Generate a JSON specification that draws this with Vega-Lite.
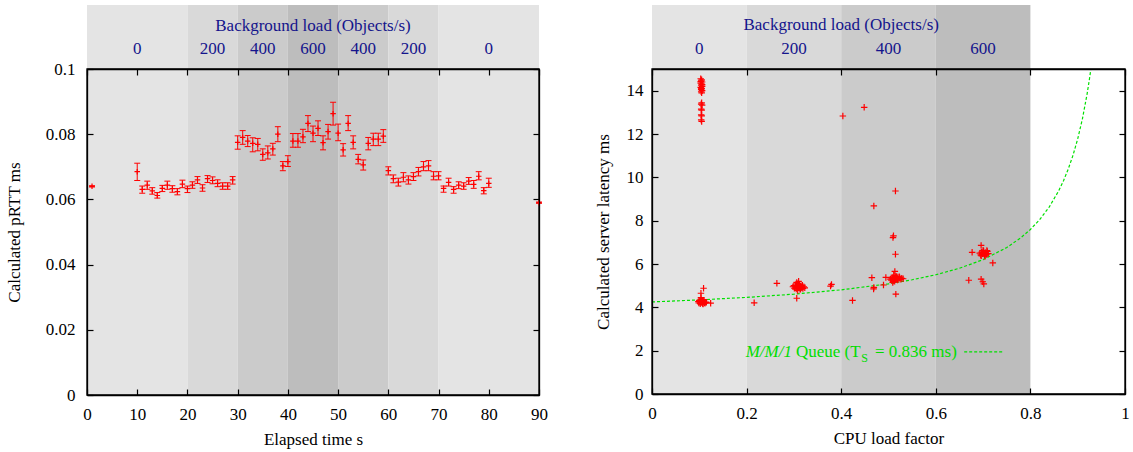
{
  "$schema": "https://vega.github.io/schema/vega-lite/v6.json",
  "background": "white",
  "padding": {"left": 5, "top": 5, "right": 2, "bottom": 2},
  "bounds": "flush",
  "spacing": 113,
  "resolve": {"scale": {"x": "independent", "y": "independent", "color": "independent"}},
  "config": {
    "font": "Liberation Serif",
    "view": {"stroke": null},
    "axis": {
      "labelFont": "Liberation Serif", "labelFontSize": 17, "labelColor": "black",
      "titleFont": "Liberation Serif", "titleFontSize": 17, "titleFontWeight": "normal", "titleColor": "black",
      "grid": false, "domainColor": "black", "domainWidth": 1.3, "tickColor": "black", "tickWidth": 1.2,
      "tickSize": -6, "labelPadding": 17, "labelFlush": false, "labelOverlap": false
    },
    "text": {"font": "Liberation Serif", "fontSize": 17}
  },
  "datasets": {
    "leftBands": [
      {"start": 0, "end": 20, "load": 0},
      {"start": 20, "end": 30, "load": 200},
      {"start": 30, "end": 40, "load": 400},
      {"start": 40, "end": 50, "load": 600},
      {"start": 50, "end": 60, "load": 400},
      {"start": 60, "end": 70, "load": 200},
      {"start": 70, "end": 90, "load": 0}
    ],
    "rightBands": [
      {"start": 0, "end": 0.2, "load": 0},
      {"start": 0.2, "end": 0.4, "load": 200},
      {"start": 0.4, "end": 0.6, "load": 400},
      {"start": 0.6, "end": 0.8, "load": 600}
    ],
    "rtt": [
      {"t": 1, "rtt": 0.0640, "lo": 0.0638, "hi": 0.0642},
      {"t": 10, "rtt": 0.0685, "lo": 0.0658, "hi": 0.0711},
      {"t": 11, "rtt": 0.0631, "lo": 0.0619, "hi": 0.0641},
      {"t": 12, "rtt": 0.0644, "lo": 0.0631, "hi": 0.0656},
      {"t": 13, "rtt": 0.0626, "lo": 0.0616, "hi": 0.0636},
      {"t": 14, "rtt": 0.0612, "lo": 0.0604, "hi": 0.0621},
      {"t": 15, "rtt": 0.0634, "lo": 0.0624, "hi": 0.0643},
      {"t": 16, "rtt": 0.0644, "lo": 0.0631, "hi": 0.0656},
      {"t": 17, "rtt": 0.0633, "lo": 0.0622, "hi": 0.0642},
      {"t": 18, "rtt": 0.0624, "lo": 0.0614, "hi": 0.0633},
      {"t": 19, "rtt": 0.0647, "lo": 0.0636, "hi": 0.0659},
      {"t": 20, "rtt": 0.0633, "lo": 0.0621, "hi": 0.0641},
      {"t": 21, "rtt": 0.0644, "lo": 0.0634, "hi": 0.0654},
      {"t": 22, "rtt": 0.0660, "lo": 0.0649, "hi": 0.0670},
      {"t": 23, "rtt": 0.0635, "lo": 0.0625, "hi": 0.0645},
      {"t": 24, "rtt": 0.0664, "lo": 0.0652, "hi": 0.0673},
      {"t": 25, "rtt": 0.0658, "lo": 0.0648, "hi": 0.0669},
      {"t": 26, "rtt": 0.0649, "lo": 0.0639, "hi": 0.0660},
      {"t": 27, "rtt": 0.0641, "lo": 0.0631, "hi": 0.0651},
      {"t": 28, "rtt": 0.0641, "lo": 0.0631, "hi": 0.0651},
      {"t": 29, "rtt": 0.0660, "lo": 0.0647, "hi": 0.0670},
      {"t": 30, "rtt": 0.0775, "lo": 0.0754, "hi": 0.0795},
      {"t": 31, "rtt": 0.0790, "lo": 0.0769, "hi": 0.0811},
      {"t": 32, "rtt": 0.0779, "lo": 0.0762, "hi": 0.0796},
      {"t": 33, "rtt": 0.0772, "lo": 0.0746, "hi": 0.0789},
      {"t": 34, "rtt": 0.0769, "lo": 0.0749, "hi": 0.0787},
      {"t": 35, "rtt": 0.0738, "lo": 0.0720, "hi": 0.0755},
      {"t": 36, "rtt": 0.0743, "lo": 0.0724, "hi": 0.0764},
      {"t": 37, "rtt": 0.0755, "lo": 0.0736, "hi": 0.0772},
      {"t": 38, "rtt": 0.0800, "lo": 0.0777, "hi": 0.0823},
      {"t": 39, "rtt": 0.0703, "lo": 0.0688, "hi": 0.0716},
      {"t": 40, "rtt": 0.0716, "lo": 0.0701, "hi": 0.0734},
      {"t": 41, "rtt": 0.0779, "lo": 0.0760, "hi": 0.0802},
      {"t": 42, "rtt": 0.0779, "lo": 0.0760, "hi": 0.0802},
      {"t": 43, "rtt": 0.0792, "lo": 0.0774, "hi": 0.0815},
      {"t": 44, "rtt": 0.0833, "lo": 0.0808, "hi": 0.0857},
      {"t": 45, "rtt": 0.0803, "lo": 0.0777, "hi": 0.0825},
      {"t": 46, "rtt": 0.0818, "lo": 0.0796, "hi": 0.0841},
      {"t": 47, "rtt": 0.0774, "lo": 0.0752, "hi": 0.0795},
      {"t": 48, "rtt": 0.0808, "lo": 0.0785, "hi": 0.0830},
      {"t": 49, "rtt": 0.0863, "lo": 0.0828, "hi": 0.0898},
      {"t": 50, "rtt": 0.0803, "lo": 0.0780, "hi": 0.0831},
      {"t": 51, "rtt": 0.0752, "lo": 0.0733, "hi": 0.0771},
      {"t": 52, "rtt": 0.0833, "lo": 0.0811, "hi": 0.0857},
      {"t": 53, "rtt": 0.0775, "lo": 0.0755, "hi": 0.0795},
      {"t": 54, "rtt": 0.0723, "lo": 0.0709, "hi": 0.0738},
      {"t": 55, "rtt": 0.0706, "lo": 0.0690, "hi": 0.0721},
      {"t": 56, "rtt": 0.0772, "lo": 0.0752, "hi": 0.0790},
      {"t": 57, "rtt": 0.0785, "lo": 0.0765, "hi": 0.0803},
      {"t": 58, "rtt": 0.0785, "lo": 0.0765, "hi": 0.0803},
      {"t": 59, "rtt": 0.0794, "lo": 0.0775, "hi": 0.0814},
      {"t": 60, "rtt": 0.0688, "lo": 0.0675, "hi": 0.0700},
      {"t": 61, "rtt": 0.0664, "lo": 0.0651, "hi": 0.0675},
      {"t": 62, "rtt": 0.0653, "lo": 0.0641, "hi": 0.0665},
      {"t": 63, "rtt": 0.0668, "lo": 0.0654, "hi": 0.0682},
      {"t": 64, "rtt": 0.0660, "lo": 0.0647, "hi": 0.0672},
      {"t": 65, "rtt": 0.0670, "lo": 0.0658, "hi": 0.0682},
      {"t": 66, "rtt": 0.0685, "lo": 0.0672, "hi": 0.0698},
      {"t": 67, "rtt": 0.0700, "lo": 0.0688, "hi": 0.0716},
      {"t": 68, "rtt": 0.0703, "lo": 0.0688, "hi": 0.0719},
      {"t": 69, "rtt": 0.0671, "lo": 0.0660, "hi": 0.0685},
      {"t": 70, "rtt": 0.0672, "lo": 0.0660, "hi": 0.0685},
      {"t": 71, "rtt": 0.0634, "lo": 0.0622, "hi": 0.0641},
      {"t": 72, "rtt": 0.0652, "lo": 0.0641, "hi": 0.0665},
      {"t": 73, "rtt": 0.0631, "lo": 0.0619, "hi": 0.0639},
      {"t": 74, "rtt": 0.0644, "lo": 0.0633, "hi": 0.0654},
      {"t": 75, "rtt": 0.0641, "lo": 0.0631, "hi": 0.0651},
      {"t": 76, "rtt": 0.0656, "lo": 0.0646, "hi": 0.0667},
      {"t": 77, "rtt": 0.0646, "lo": 0.0634, "hi": 0.0658},
      {"t": 78, "rtt": 0.0671, "lo": 0.0660, "hi": 0.0685},
      {"t": 79, "rtt": 0.0627, "lo": 0.0617, "hi": 0.0636},
      {"t": 80, "rtt": 0.0649, "lo": 0.0637, "hi": 0.0665},
      {"t": 90, "rtt": 0.0590, "lo": 0.0588, "hi": 0.0592}
    ],
    "latency": [
      {"load": 0.103, "ms": 14.55}, {"load": 0.105, "ms": 14.5}, {"load": 0.104, "ms": 14.45}, {"load": 0.106, "ms": 14.4},
      {"load": 0.103, "ms": 14.35}, {"load": 0.105, "ms": 14.3}, {"load": 0.104, "ms": 14.25}, {"load": 0.106, "ms": 14.2},
      {"load": 0.103, "ms": 14.15}, {"load": 0.105, "ms": 14.1}, {"load": 0.104, "ms": 14.05}, {"load": 0.106, "ms": 14.0},
      {"load": 0.104, "ms": 13.95}, {"load": 0.105, "ms": 13.9}, {"load": 0.103, "ms": 14.42}, {"load": 0.106, "ms": 14.28},
      {"load": 0.104, "ms": 14.12}, {"load": 0.105, "ms": 13.44}, {"load": 0.104, "ms": 13.38}, {"load": 0.106, "ms": 13.33},
      {"load": 0.104, "ms": 13.15}, {"load": 0.105, "ms": 13.1}, {"load": 0.104, "ms": 12.88}, {"load": 0.105, "ms": 12.84},
      {"load": 0.104, "ms": 12.65}, {"load": 0.105, "ms": 12.58},
      {"load": 0.099, "ms": 4.2}, {"load": 0.101, "ms": 4.25}, {"load": 0.103, "ms": 4.3}, {"load": 0.105, "ms": 4.22},
      {"load": 0.107, "ms": 4.18}, {"load": 0.109, "ms": 4.27}, {"load": 0.111, "ms": 4.21}, {"load": 0.113, "ms": 4.24},
      {"load": 0.1, "ms": 4.32}, {"load": 0.102, "ms": 4.17}, {"load": 0.104, "ms": 4.35}, {"load": 0.106, "ms": 4.28},
      {"load": 0.108, "ms": 4.15}, {"load": 0.11, "ms": 4.33}, {"load": 0.112, "ms": 4.19}, {"load": 0.105, "ms": 4.26},
      {"load": 0.103, "ms": 4.23}, {"load": 0.107, "ms": 4.31}, {"load": 0.115, "ms": 4.23}, {"load": 0.098, "ms": 4.26},
      {"load": 0.1035, "ms": 4.45}, {"load": 0.1035, "ms": 4.65}, {"load": 0.109, "ms": 4.88}, {"load": 0.124, "ms": 4.19},
      {"load": 0.298, "ms": 4.95}, {"load": 0.301, "ms": 4.88}, {"load": 0.303, "ms": 5.02}, {"load": 0.305, "ms": 4.85},
      {"load": 0.307, "ms": 4.97}, {"load": 0.309, "ms": 5.1}, {"load": 0.311, "ms": 4.9}, {"load": 0.313, "ms": 4.82},
      {"load": 0.315, "ms": 5.0}, {"load": 0.317, "ms": 4.93}, {"load": 0.319, "ms": 4.87}, {"load": 0.321, "ms": 4.95},
      {"load": 0.323, "ms": 4.9}, {"load": 0.306, "ms": 5.15}, {"load": 0.308, "ms": 4.78}, {"load": 0.31, "ms": 5.05},
      {"load": 0.312, "ms": 4.98}, {"load": 0.314, "ms": 4.86}, {"load": 0.316, "ms": 4.91}, {"load": 0.304, "ms": 4.93},
      {"load": 0.318, "ms": 5.02}, {"load": 0.31, "ms": 5.2}, {"load": 0.3, "ms": 5.0},
      {"load": 0.264, "ms": 5.11}, {"load": 0.306, "ms": 4.42}, {"load": 0.216, "ms": 4.21}, {"load": 0.3775, "ms": 4.98}, {"load": 0.3795, "ms": 5.06},
      {"load": 0.504, "ms": 5.3}, {"load": 0.506, "ms": 5.25}, {"load": 0.508, "ms": 5.38}, {"load": 0.51, "ms": 5.22},
      {"load": 0.512, "ms": 5.35}, {"load": 0.514, "ms": 5.45}, {"load": 0.516, "ms": 5.28}, {"load": 0.518, "ms": 5.33},
      {"load": 0.52, "ms": 5.4}, {"load": 0.522, "ms": 5.3}, {"load": 0.524, "ms": 5.36}, {"load": 0.526, "ms": 5.29},
      {"load": 0.528, "ms": 5.34}, {"load": 0.531, "ms": 5.32}, {"load": 0.509, "ms": 5.15}, {"load": 0.511, "ms": 5.48},
      {"load": 0.513, "ms": 5.2}, {"load": 0.515, "ms": 5.38}, {"load": 0.517, "ms": 5.42}, {"load": 0.507, "ms": 5.32},
      {"load": 0.519, "ms": 5.26}, {"load": 0.523, "ms": 5.41}, {"load": 0.51, "ms": 5.3},
      {"load": 0.4035, "ms": 12.83}, {"load": 0.4486, "ms": 13.23}, {"load": 0.5147, "ms": 9.37}, {"load": 0.469, "ms": 8.68},
      {"load": 0.5105, "ms": 7.3}, {"load": 0.5095, "ms": 7.22}, {"load": 0.5147, "ms": 6.45}, {"load": 0.5134, "ms": 5.66},
      {"load": 0.4648, "ms": 5.37}, {"load": 0.4944, "ms": 5.38}, {"load": 0.4894, "ms": 5.03}, {"load": 0.469, "ms": 4.92},
      {"load": 0.4685, "ms": 4.85}, {"load": 0.5155, "ms": 4.61}, {"load": 0.4239, "ms": 4.32},
      {"load": 0.693, "ms": 6.5}, {"load": 0.695, "ms": 6.42}, {"load": 0.697, "ms": 6.55}, {"load": 0.699, "ms": 6.47},
      {"load": 0.701, "ms": 6.6}, {"load": 0.703, "ms": 6.4}, {"load": 0.705, "ms": 6.52}, {"load": 0.707, "ms": 6.45},
      {"load": 0.709, "ms": 6.58}, {"load": 0.711, "ms": 6.48}, {"load": 0.696, "ms": 6.38}, {"load": 0.7, "ms": 6.63},
      {"load": 0.704, "ms": 6.36}, {"load": 0.708, "ms": 6.62}, {"load": 0.702, "ms": 6.5}, {"load": 0.698, "ms": 6.52},
      {"load": 0.706, "ms": 6.44},
      {"load": 0.6768, "ms": 6.54}, {"load": 0.6958, "ms": 6.86}, {"load": 0.7205, "ms": 6.05}, {"load": 0.6697, "ms": 5.25},
      {"load": 0.6958, "ms": 5.3}, {"load": 0.6993, "ms": 5.18}, {"load": 0.7015, "ms": 5.08}
    ],
    "queue": [
      {"rho": 0, "ms": 4.25}, {"rho": 0.1, "ms": 4.343}, {"rho": 0.2, "ms": 4.459}, {"rho": 0.3, "ms": 4.608},
      {"rho": 0.4, "ms": 4.807}, {"rho": 0.5, "ms": 5.086}, {"rho": 0.55, "ms": 5.272}, {"rho": 0.6, "ms": 5.504},
      {"rho": 0.65, "ms": 5.803}, {"rho": 0.7, "ms": 6.201}, {"rho": 0.75, "ms": 6.758}, {"rho": 0.78, "ms": 7.214},
      {"rho": 0.8, "ms": 7.594}, {"rho": 0.82, "ms": 8.058}, {"rho": 0.84, "ms": 8.639}, {"rho": 0.86, "ms": 9.385},
      {"rho": 0.87, "ms": 9.845}, {"rho": 0.88, "ms": 10.381}, {"rho": 0.89, "ms": 11.014}, {"rho": 0.9, "ms": 11.774},
      {"rho": 0.91, "ms": 12.703}, {"rho": 0.92, "ms": 13.864}, {"rho": 0.925, "ms": 14.561}, {"rho": 0.9279, "ms": 15.0}
    ]
  },
  "hconcat": [
    {
      "width": 452,
      "height": 326,
      "resolve": {"axis": {"x": "independent", "y": "independent"}},
      "layer": [
        {
          "data": {"name": "leftBands"},
          "mark": {"type": "rect"},
          "encoding": {
            "x": {"field": "start", "type": "quantitative", "scale": {"domain": [0, 90], "nice": false},
                  "axis": {"orient": "top", "labels": false, "title": null, "tickCount": 9, "zindex": 1}},
            "x2": {"field": "end"},
            "y": {"datum": 0, "type": "quantitative", "scale": {"domain": [0, 0.1], "nice": false},
                  "axis": {"orient": "right", "labels": false, "title": null, "tickCount": 5, "zindex": 1}},
            "y2": {"datum": 0.1196},
            "color": {"field": "load", "type": "ordinal", "legend": null,
                      "scale": {"domain": [0, 200, 400, 600], "range": ["#e4e4e4", "#d9d9d9", "#cbcbcb", "#bdbdbd"]}}
          }
        },
        {
          "data": {"name": "leftBands"},
          "transform": [{"calculate": "(datum.start + datum.end) / 2", "as": "mid"}],
          "mark": {"type": "text", "color": "#14148c", "baseline": "alphabetic"},
          "encoding": {
            "x": {"field": "mid", "type": "quantitative", "scale": {"domain": [0, 90], "nice": false}, "axis": null},
            "y": {"datum": 0.1045, "type": "quantitative", "scale": {"domain": [0, 0.1], "nice": false}, "axis": null},
            "text": {"field": "load"}
          }
        },
        {
          "data": {"values": [{}]},
          "mark": {"type": "text", "color": "#14148c", "baseline": "alphabetic"},
          "encoding": {
            "x": {"datum": 45, "type": "quantitative", "scale": {"domain": [0, 90], "nice": false}, "axis": null},
            "y": {"datum": 0.1118, "type": "quantitative", "scale": {"domain": [0, 0.1], "nice": false}, "axis": null},
            "text": {"value": "Background load (Objects/s)"}
          }
        },
        {
          "data": {"values": [{}]},
          "mark": {"type": "rect", "fillOpacity": 0, "stroke": "black", "strokeWidth": 1.3},
          "encoding": {
            "x": {"datum": 0, "type": "quantitative", "scale": {"domain": [0, 90], "nice": false}, "axis": null},
            "x2": {"datum": 90},
            "y": {"datum": 0, "type": "quantitative", "scale": {"domain": [0, 0.1], "nice": false}, "axis": null},
            "y2": {"datum": 0.1}
          }
        },
        {
          "data": {"name": "rtt"},
          "mark": {"type": "rule", "color": "#ff0000", "strokeWidth": 1},
          "encoding": {
            "x": {"field": "t", "type": "quantitative", "scale": {"domain": [0, 90], "nice": false}, "axis": null},
            "y": {"field": "lo", "type": "quantitative", "scale": {"domain": [0, 0.1], "nice": false}, "axis": null},
            "y2": {"field": "hi"}
          }
        },
        {
          "data": {"name": "rtt"},
          "mark": {"type": "point", "shape": "M-1,0L1,0", "size": 36, "filled": false, "color": "#ff0000", "strokeWidth": 1, "opacity": 1},
          "encoding": {
            "x": {"field": "t", "type": "quantitative", "scale": {"domain": [0, 90], "nice": false}, "axis": null},
            "y": {"field": "lo", "type": "quantitative", "scale": {"domain": [0, 0.1], "nice": false}, "axis": null}
          }
        },
        {
          "data": {"name": "rtt"},
          "mark": {"type": "point", "shape": "M-1,0L1,0", "size": 36, "filled": false, "color": "#ff0000", "strokeWidth": 1, "opacity": 1},
          "encoding": {
            "x": {"field": "t", "type": "quantitative", "scale": {"domain": [0, 90], "nice": false}, "axis": null},
            "y": {"field": "hi", "type": "quantitative", "scale": {"domain": [0, 0.1], "nice": false}, "axis": null}
          }
        },
        {
          "data": {"name": "rtt"},
          "mark": {"type": "point", "shape": "M-1,0L1,0M0,-1L0,1", "size": 30, "filled": false, "color": "#ff0000", "strokeWidth": 1.2, "opacity": 1},
          "encoding": {
            "x": {"field": "t", "type": "quantitative", "scale": {"domain": [0, 90], "nice": false},
                  "axis": {"orient": "bottom", "title": "Elapsed time s", "tickCount": 9, "labelPadding": 17, "titlePadding": 9, "zindex": 1}},
            "y": {"field": "rtt", "type": "quantitative", "scale": {"domain": [0, 0.1], "nice": false},
                  "axis": {"orient": "left", "title": "Calculated pRTT ms", "tickCount": 5, "format": "~g", "labelPadding": 18, "titlePadding": 22, "zindex": 1}}
          }
        }
      ]
    },
    {
      "width": 473,
      "height": 325,
      "resolve": {"axis": {"x": "independent", "y": "independent"}},
      "layer": [
        {
          "data": {"name": "rightBands"},
          "mark": {"type": "rect"},
          "encoding": {
            "x": {"field": "start", "type": "quantitative", "scale": {"domain": [0, 1], "nice": false},
                  "axis": {"orient": "top", "labels": false, "title": null, "tickCount": 5, "zindex": 1}},
            "x2": {"field": "end"},
            "y": {"datum": 0, "type": "quantitative", "scale": {"domain": [0, 15], "nice": false},
                  "axis": {"orient": "right", "labels": false, "title": null, "tickCount": 8, "zindex": 1}},
            "y2": {"datum": 17.95},
            "color": {"field": "load", "type": "ordinal", "legend": null,
                      "scale": {"domain": [0, 200, 400, 600], "range": ["#e4e4e4", "#d9d9d9", "#cbcbcb", "#bdbdbd"]}}
          }
        },
        {
          "data": {"name": "rightBands"},
          "transform": [{"calculate": "(datum.start + datum.end) / 2", "as": "mid"}],
          "mark": {"type": "text", "color": "#14148c", "baseline": "alphabetic"},
          "encoding": {
            "x": {"field": "mid", "type": "quantitative", "scale": {"domain": [0, 1], "nice": false}, "axis": null},
            "y": {"datum": 15.68, "type": "quantitative", "scale": {"domain": [0, 15], "nice": false}, "axis": null},
            "text": {"field": "load"}
          }
        },
        {
          "data": {"values": [{}]},
          "mark": {"type": "text", "color": "#14148c", "baseline": "alphabetic"},
          "encoding": {
            "x": {"datum": 0.4, "type": "quantitative", "scale": {"domain": [0, 1], "nice": false}, "axis": null},
            "y": {"datum": 16.8, "type": "quantitative", "scale": {"domain": [0, 15], "nice": false}, "axis": null},
            "text": {"value": "Background load (Objects/s)"}
          }
        },
        {
          "data": {"values": [{}]},
          "mark": {"type": "rect", "fillOpacity": 0, "stroke": "black", "strokeWidth": 1.3},
          "encoding": {
            "x": {"datum": 0, "type": "quantitative", "scale": {"domain": [0, 1], "nice": false}, "axis": null},
            "x2": {"datum": 1},
            "y": {"datum": 0, "type": "quantitative", "scale": {"domain": [0, 15], "nice": false}, "axis": null},
            "y2": {"datum": 15}
          }
        },
        {
          "data": {"name": "queue"},
          "mark": {"type": "line", "color": "#00e000", "strokeWidth": 1.2, "strokeDash": [3, 2]},
          "encoding": {
            "x": {"field": "rho", "type": "quantitative", "scale": {"domain": [0, 1], "nice": false}, "axis": null},
            "y": {"field": "ms", "type": "quantitative", "scale": {"domain": [0, 15], "nice": false}, "axis": null}
          }
        },
        {
          "data": {"name": "latency"},
          "mark": {"type": "point", "shape": "M-1,0L1,0M0,-1L0,1", "size": 42, "filled": false, "color": "#ff0000", "strokeWidth": 1.2, "opacity": 1},
          "encoding": {
            "x": {"field": "load", "type": "quantitative", "scale": {"domain": [0, 1], "nice": false},
                  "axis": {"orient": "bottom", "title": "CPU load factor", "tickCount": 5, "format": "~g", "labelPadding": 17, "titlePadding": 9, "zindex": 1}},
            "y": {"field": "ms", "type": "quantitative", "scale": {"domain": [0, 15], "nice": false},
                  "axis": {"orient": "left", "title": "Calculated server latency ms", "tickCount": 8, "labelPadding": 15, "titlePadding": 14, "zindex": 1}}
          }
        },
        {
          "data": {"values": [{}]},
          "mark": {"type": "text", "color": "#00dd00", "align": "right", "baseline": "middle", "fontStyle": "italic"},
          "encoding": {
            "x": {"datum": 0.2958, "type": "quantitative", "scale": {"domain": [0, 1], "nice": false}, "axis": null},
            "y": {"datum": 1.94, "type": "quantitative", "scale": {"domain": [0, 15], "nice": false}, "axis": null},
            "text": {"value": "M/M/1"}
          }
        },
        {
          "data": {"values": [{}]},
          "mark": {"type": "text", "color": "#00dd00", "align": "left", "baseline": "middle", "dx": 4},
          "encoding": {
            "x": {"datum": 0.2958, "type": "quantitative", "scale": {"domain": [0, 1], "nice": false}, "axis": null},
            "y": {"datum": 1.94, "type": "quantitative", "scale": {"domain": [0, 15], "nice": false}, "axis": null},
            "text": {"value": "Queue (T"}
          }
        },
        {
          "data": {"values": [{}]},
          "mark": {"type": "text", "color": "#00dd00", "align": "left", "baseline": "middle", "fontSize": 12, "dy": 6},
          "encoding": {
            "x": {"datum": 0.4425, "type": "quantitative", "scale": {"domain": [0, 1], "nice": false}, "axis": null},
            "y": {"datum": 1.94, "type": "quantitative", "scale": {"domain": [0, 15], "nice": false}, "axis": null},
            "text": {"value": "S"}
          }
        },
        {
          "data": {"values": [{}]},
          "mark": {"type": "text", "color": "#00dd00", "align": "left", "baseline": "middle"},
          "encoding": {
            "x": {"datum": 0.4715, "type": "quantitative", "scale": {"domain": [0, 1], "nice": false}, "axis": null},
            "y": {"datum": 1.94, "type": "quantitative", "scale": {"domain": [0, 15], "nice": false}, "axis": null},
            "text": {"value": "= 0.836 ms)"}
          }
        },
        {
          "data": {"values": [{}]},
          "mark": {"type": "rule", "color": "#00e000", "strokeWidth": 1.2, "strokeDash": [3, 2]},
          "encoding": {
            "x": {"datum": 0.66, "type": "quantitative", "scale": {"domain": [0, 1], "nice": false}, "axis": null},
            "x2": {"datum": 0.7416},
            "y": {"datum": 1.94, "type": "quantitative", "scale": {"domain": [0, 15], "nice": false}, "axis": null}
          }
        }
      ]
    }
  ]
}
